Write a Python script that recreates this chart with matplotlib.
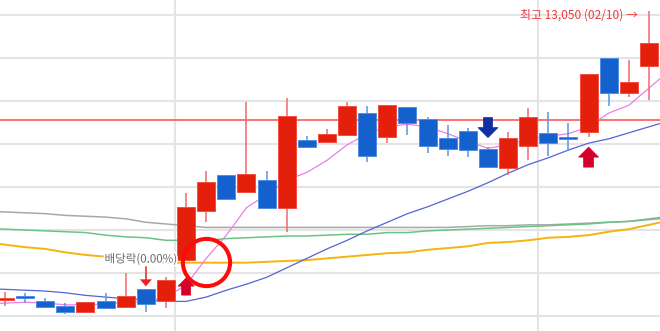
import matplotlib
matplotlib.use("Agg")
import matplotlib.pyplot as plt
from matplotlib.patches import Rectangle, Polygon
import matplotlib.patheffects as pe

# ---- data (daily candles, KRW) ----
opens = [9690, 9730, 9670, 9620, 9550, 9670, 9600, 9810, 9670, 10150, 10720, 11140, 10940, 11080, 10760,
         11550, 11520, 11600, 11860, 11580, 11930, 11790, 11570, 11650, 11440, 11220, 11480, 11630, 11580,
         11640, 12500, 12090, 12410]
highs = [9780, 9770, 9710, 9650, 9660, 9770, 10000, 9810, 9950, 10930, 11190, 11140, 11990, 11190, 12030,
         11590, 11670, 11990, 11940, 11950, 11930, 11810, 11720, 11690, 11470, 11640, 11920, 11870, 11740,
         12310, 12500, 12480, 13050]
lows = [9620, 9650, 9590, 9520, 9550, 9590, 9600, 9550, 9590, 10150, 10590, 10850, 10940, 10760, 10480,
        11470, 11520, 11600, 11290, 11510, 11600, 11400, 11360, 11350, 11230, 11140, 11310, 11360, 11420,
        11580, 11940, 12050, 12010]
closes = [9710, 9710, 9600, 9550, 9660, 9590, 9730, 9640, 9920, 10770, 11060, 10860, 11150, 10760, 11830,
          11470, 11620, 11940, 11360, 11950, 11740, 11480, 11440, 11430, 11230, 11570, 11810, 11510, 11560,
          12310, 12090, 12220, 12670]

ma5 = [9650, 9660, 9650, 9630, 9630, 9640, 9660, 9670, 9720, 9860, 10170, 10440, 10760, 10910, 11080,
       11170, 11310, 11490, 11620, 11700, 11730, 11700, 11620, 11530, 11450, 11490, 11560, 11590, 11620,
       11700, 11860, 11950, 12150]
ma20 = [9810, 9800, 9790, 9770, 9740, 9720, 9700, 9690, 9670, 9670, 9720, 9800, 9870, 9950, 10060,
        10170, 10280, 10380, 10490, 10590, 10690, 10770, 10860, 10950, 11050, 11160, 11260, 11340, 11430,
        11510, 11560, 11630, 11700]
ma60 = [10330, 10300, 10280, 10240, 10210, 10190, 10160, 10140, 10120, 10120, 10120, 10120, 10120, 10130,
        10140, 10150, 10170, 10190, 10210, 10230, 10240, 10270, 10290, 10310, 10350, 10360, 10380, 10410,
        10420, 10440, 10480, 10510, 10560]
ma120 = [10510, 10500, 10490, 10480, 10470, 10440, 10420, 10410, 10380, 10380, 10380, 10400, 10410, 10420,
         10430, 10430, 10440, 10450, 10450, 10470, 10470, 10490, 10500, 10510, 10520, 10530, 10540, 10550,
         10560, 10570, 10590, 10600, 10620]
ma240 = [10710, 10700, 10690, 10670, 10660, 10650, 10630, 10590, 10570, 10550, 10530, 10530, 10530, 10530,
         10530, 10530, 10530, 10530, 10530, 10530, 10530, 10530, 10530, 10540, 10550, 10550, 10560, 10560,
         10570, 10580, 10590, 10600, 10630]

grid_levels = [9500, 10000, 10500, 11000, 11500, 12000, 12500, 13000]
month_breaks = [8.45, 26.5]
ref_price = 11780
ex_div_idx = 9
ex_div_label = "배당락(0.00%)"
high_idx = 32
high_label = "최고 13,050 (02/10) →"

FONT = ["Noto Sans CJK KR", "DejaVu Sans"]
plt.rcParams["font.family"] = FONT

W, H = 660, 331
fig = plt.figure(figsize=(W / 100, H / 100), dpi=100)
ax = fig.add_axes([0, 0, 1, 1])
xlim = (-0.248, 32.547)
ylim = (9325.6, 13174.4)
ax.set_xlim(*xlim)
ax.set_ylim(*ylim)
ax.axis("off")
ppx = (xlim[1] - xlim[0]) / W
ppy = (ylim[1] - ylim[0]) / H

n = len(opens)
xs = list(range(n))

# grid
for g in grid_levels:
    ax.axhline(g, color="#e4e4e4", lw=1.5, zorder=0)
for b in month_breaks:
    ax.axvline(b, color="#e4e4e4", lw=1.5, zorder=0)
ax.axhline(ref_price, color="#ff6464", lw=1.3, zorder=1)


def extend(vals):
    x = list(xs)
    y = list(vals)
    s0 = (y[1] - y[0])
    s1 = (y[-1] - y[-2])
    return ([xlim[0]] + x + [xlim[1]],
            [y[0] - s0 * (x[0] - xlim[0])] + y + [y[-1] + s1 * (xlim[1] - x[-1])])


for vals, col, lw in [(ma240, "#a8a8a8", 1.1), (ma120, "#6cc383", 1.1), (ma60, "#f6b20f", 1.4),
                      (ma20, "#5563d3", 0.9), (ma5, "#ec7ee6", 0.9)]:
    ex, ey = extend(vals)
    ax.plot(ex, ey, color=col, lw=lw, zorder=2, solid_capstyle="butt")

# candles
bw = 18 * ppx
min_h = 2 * ppy
for i in range(n):
    o, h, l, c = opens[i], highs[i], lows[i], closes[i]
    up = c >= o
    face = "#e4200c" if up else "#1460cc"
    edge = "#f25040" if up else "#4f8fe2"
    wick = "#f26a6a" if up else "#5a95e0"
    ax.vlines(i, l, h, color=wick, lw=1.1, zorder=3)
    lo, hi = min(o, c), max(o, c)
    if hi - lo < min_h:
        mid = (hi + lo) / 2
        lo, hi = mid - min_h / 2, mid + min_h / 2
    ax.add_patch(Rectangle((i - bw / 2, lo), bw, hi - lo, facecolor=face, edgecolor=edge,
                           lw=0.7, zorder=4))


def block_arrow(i, tip_y, direction, width_px, height_px, head_px, shaft_px, color):
    d = 1 if direction == "up" else -1
    hw = width_px / 2 * ppx
    sw = shaft_px / 2 * ppx
    base = tip_y - d * head_px * ppy
    end = tip_y - d * height_px * ppy
    pts = [(i, tip_y), (i + hw, base), (i + sw, base), (i + sw, end),
           (i - sw, end), (i - sw, base), (i - hw, base)]
    ax.add_patch(Polygon(pts, closed=True, facecolor=color, edgecolor=color, lw=0.5, zorder=5))


# up arrows (buy signals) below candles
block_arrow(9, lows[9] - 18 * ppy, "up", 16, 17, 8, 9, "#d5002a")
block_arrow(29, lows[29] - 10 * ppy, "up", 20, 20, 10, 10, "#d5002a")
# down arrow (sell signal) above candle
block_arrow(24, highs[24] + 9 * ppy, "down", 20, 20, 10, 9, "#0f2fa3")

# small red marker arrow above candle 7
tip = highs[7] + 3 * ppy
ax.plot([7, 7], [tip + 6 * ppy, tip + 19 * ppy], color="#ee2020", lw=1.1, zorder=5)
ax.add_patch(Polygon([(7, tip), (7 + 6 * ppx, tip + 7 * ppy), (7 - 6 * ppx, tip + 7 * ppy)],
                     closed=True, facecolor="#ee2020", edgecolor="none", zorder=5))

# ex-dividend circle
ax.plot([ex_div_idx + 1], [opens[ex_div_idx] - 2 * ppy], marker="o", ms=34, mfc="none",
        mec="#ff0a0a", mew=2.9, zorder=6)

ax.text(ex_div_idx - 0.42, opens[ex_div_idx] + 1 * ppy, ex_div_label, ha="right", va="center",
        fontsize=8.3, color="#6a6a6a", family=FONT, zorder=7,
        path_effects=[pe.withStroke(linewidth=2.5, foreground="white")])

ax.text(high_idx - 0.55, highs[high_idx] - 4 * ppy, high_label, ha="right", va="center",
        fontsize=8.6, color="#ee3a3a", family=FONT, zorder=7)

fig.savefig("out.png", dpi=100)
